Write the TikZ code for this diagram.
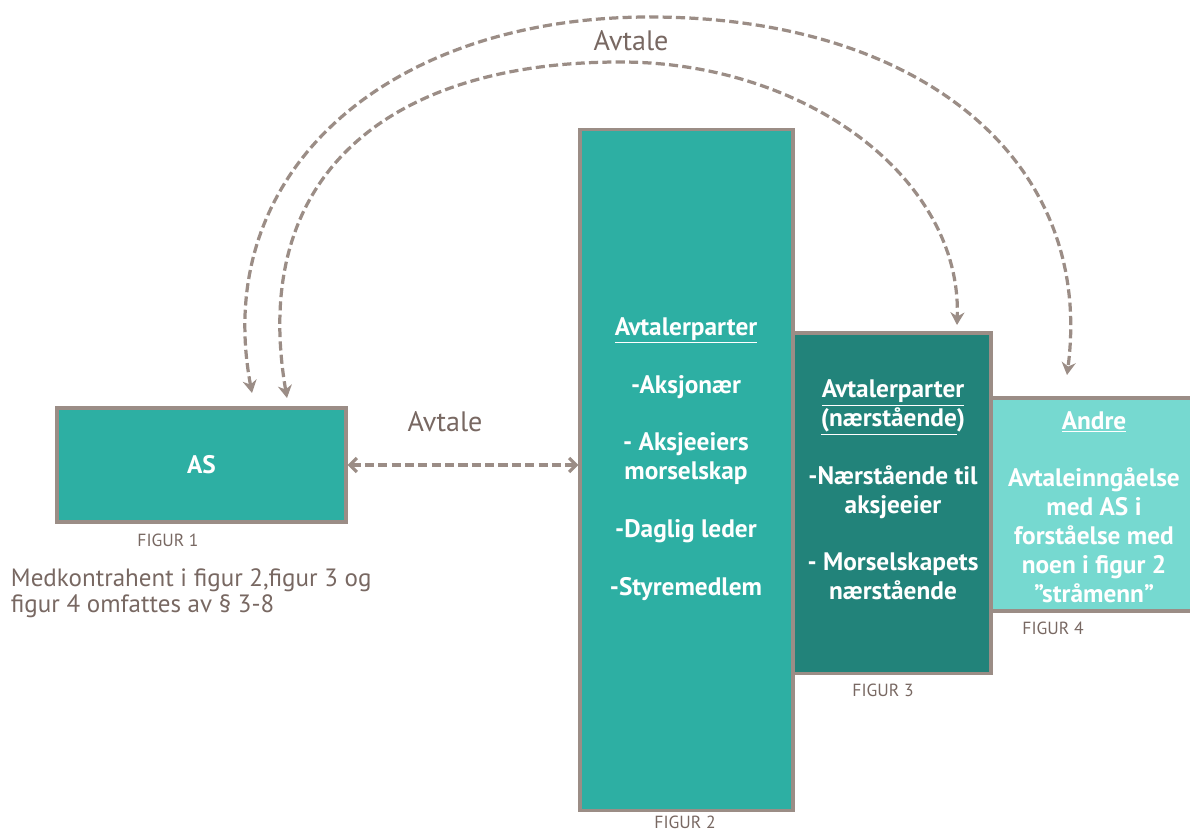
\documentclass[tikz,border=0pt]{standalone}
\usepackage{fontspec}
\setmainfont{PT Sans}
\usetikzlibrary{arrows.meta,calc}

\definecolor{Teal}{RGB}{45,175,163}
\definecolor{Morketeal}{RGB}{34,131,122}
\definecolor{Lyseteal}{RGB}{118,217,208}
\definecolor{Rand}{RGB}{155,141,134}
\definecolor{Skrift}{RGB}{120,104,98}

\tikzset{
	Feld/.style={draw=Rand, line width=2.2pt, inner sep=0pt}
}
\tikzset{
	Avtalepil/.style={Rand, line width=2.3pt, dash pattern=on 6.5pt off 3pt}
}
\tikzset{
	Figurtekst/.style={text=Skrift, inner sep=1pt, font=\fontsize{12.5}{15}\selectfont}
}
\tikzset{
	Innhold/.style={text=white, align=center, font=\bfseries\fontsize{18}{20.5}\selectfont}
}

\begin{document}
\begin{tikzpicture}[x=0.025cm,y=-0.025cm]
%Ramme
\useasboundingbox (0,0) rectangle (1190,834);

%Boksene
\node[Feld, fill=Teal, minimum width=7.225cm, minimum height=2.85cm] (as) at (201.5,465) {};
\node[Feld, fill=Teal, minimum width=5.325cm, minimum height=17cm] (f2) at (686.5,470) {};
\node[Feld, fill=Morketeal, minimum width=4.95cm, minimum height=8.5cm] (f3) at (892,503) {};
\node[Feld, fill=Lyseteal, minimum width=5.1cm, minimum height=5.325cm] (f4) at (1093,504.5) {};

%Tekst i boksene
\node[Innhold] (as-tekst) at (as) {AS};
\node[Innhold] (f2-tekst) at (686,459) {\underline{Avtalerparter}\\[20.5pt]
-Aksjonær\\[20.5pt]
- Aksjeeiers\\morselskap\\[20.5pt]
-Daglig leder\\[20.5pt]
-Styremedlem};
\node[Innhold] (f3-tekst) at (893,490) {\underline{Avtalerparter}\\\underline{(nærstående}) \\[20.5pt]
-Nærstående til\\aksjeeier\\[20.5pt]
- Morselskapets\\nærstående};
\node[Innhold] (f4-tekst) at (1094,507) {\underline{Andre}\\[20.5pt]
Avtaleinngåelse\\med AS i\\forståelse med\\noen i figur 2\\”stråmenn”};

%Figurnavn
\node[Figurtekst] (fig1) at (168,540) {FIGUR 1};
\node[Figurtekst] (fig2) at (685,822) {FIGUR 2};
\node[Figurtekst] (fig3) at (883,690) {FIGUR 3};
\node[Figurtekst] (fig4) at (1053,628) {FIGUR 4};

\node[text=Skrift, anchor=west, align=left, font=\fontsize{17.8}{18.8}\selectfont] (merknad) at (6,593) {Medkontrahent i figur 2,figur 3 og\\figur 4 omfattes av § 3-8};

%Piler
\draw[Avtalepil, {Straight Barb[length=5pt,width=10pt]}-{Straight Barb[length=5pt,width=10pt]}] (as.east) -- (as.east -| f2.west);
\node[text=Skrift, font=\fontsize{20}{24}\selectfont] (avtale-midt) at (445,422) {Avtale};

\coordinate (as-ytre) at (252,393);
\coordinate (as-indre) at (287,398);
\coordinate (f3-inn) at (957,325);
\coordinate (f4-inn) at (1067,375);
\coordinate (topp-ytre) at (650,17);
\coordinate (topp-indre) at (620,62);

\draw[Avtalepil, {Stealth[length=9pt,width=10pt]}-{Stealth[length=9pt,width=10pt]}] (as-ytre) .. controls (210,170) and (390,17) .. (topp-ytre) .. controls (920,17) and (1095,160) .. (f4-inn);
\draw[Avtalepil, {Stealth[length=9pt,width=10pt]}-{Stealth[length=9pt,width=10pt]}] (as-indre) .. controls (248,170) and (395,62) .. (topp-indre) .. controls (808,62) and (962,180) .. (f3-inn);
\node[text=Skrift, font=\fontsize{20}{24}\selectfont] (avtale-topp) at (631,41) {Avtale};
\end{tikzpicture}
\end{document}
